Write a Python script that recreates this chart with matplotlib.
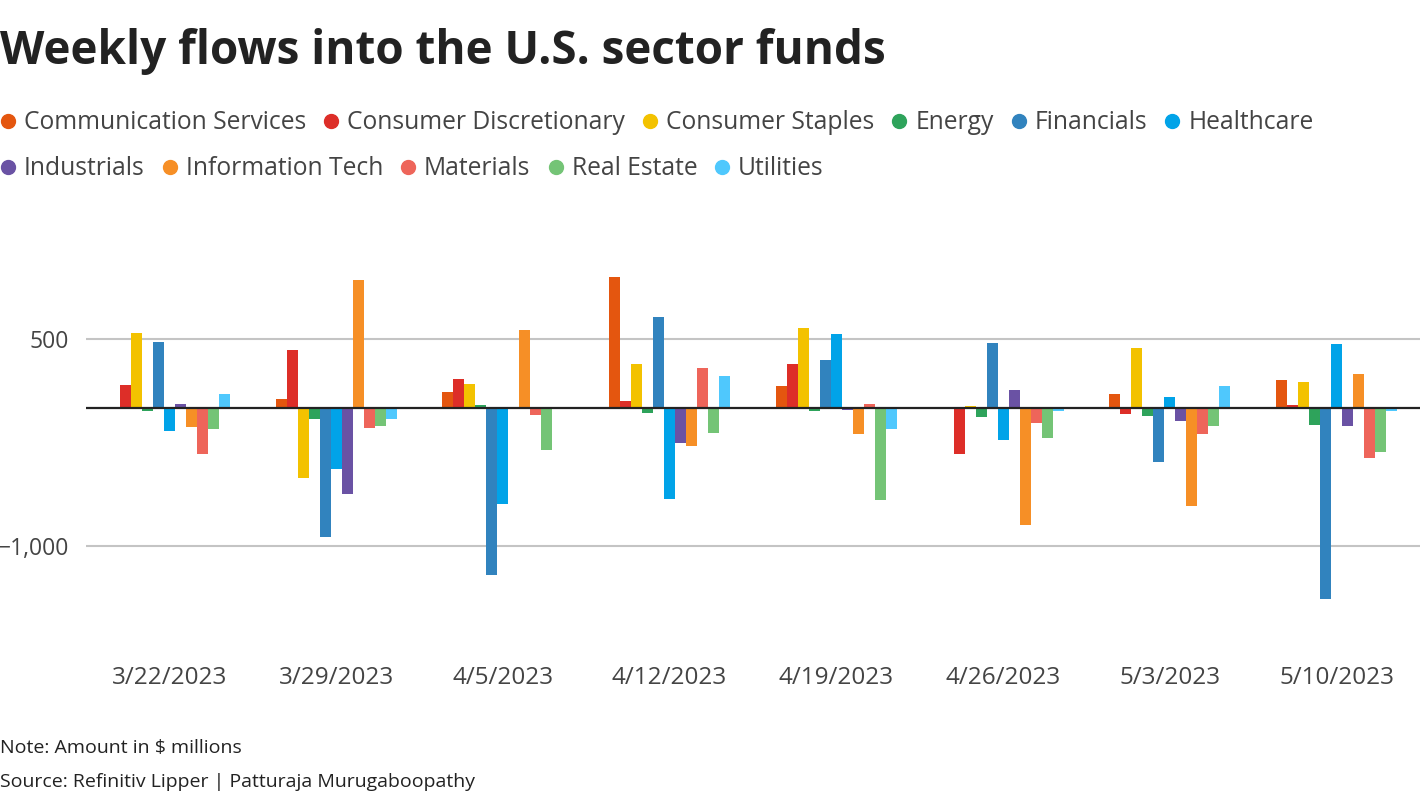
import matplotlib
matplotlib.use("Agg")
import matplotlib.pyplot as plt
import matplotlib.lines as mlines
import numpy as np

plt.rcParams['font.family'] = ['Open Sans', 'DejaVu Sans']

# weekly flows, $ millions
weeks = ['3/22/2023', '3/29/2023', '4/5/2023', '4/12/2023',
         '4/19/2023', '4/26/2023', '5/3/2023', '5/10/2023']
sectors = ['Communication Services', 'Consumer Discretionary', 'Consumer Staples',
           'Energy', 'Financials', 'Healthcare', 'Industrials', 'Information Tech',
           'Materials', 'Real Estate', 'Utilities']
comm_services = [0, 63, 114, 951, 158, 0, 100, 201]
cons_disc = [165, 420, 209, 49, 318, -337, -46, 19]
cons_staples = [544, -505, 172, 318, 580, 12, 434, 187]
energy = [-24, -83, 19, -39, -24, -68, -61, -126]
financials = [478, -934, -1211, 660, 347, 471, -388, -1386]
healthcare = [-170, -439, -694, -658, 536, -235, 78, 464]
industrials = [27, -621, 0, -257, -17, 129, -97, -133]
info_tech = [-141, 930, 566, -272, -192, -847, -709, 245]
materials = [-337, -148, -53, 289, 27, -112, -192, -366]
real_estate = [-155, -133, -308, -184, -665, -214, -133, -316]
utilities = [100, -83, 0, 231, -155, -24, 158, -24]

series = [comm_services, cons_disc, cons_staples, energy, financials, healthcare,
          industrials, info_tech, materials, real_estate, utilities]
colors = ['#e4560f', '#dd2e28', '#f3c200', '#2ea35b', '#3183be', '#01a3e8',
          '#6a52a4', '#f68f26', '#ee655a', '#74c476', '#4fc8fd']

W, H = 1420, 800
fig = plt.figure(figsize=(W / 100, H / 100), dpi=100)
ax = fig.add_axes([86 / W, 0.214, 1 - 86 / W, 0.5003])

x = np.arange(len(weeks))
bw = 0.066
n = len(series)
for i, (vals, c) in enumerate(zip(series, colors)):
    ax.bar(x + (i - (n - 1) / 2) * bw, vals, width=bw, color=c, linewidth=0, zorder=2)

ax.set_xlim(-0.5, 7.5)
ax.set_ylim(-1600, 1300)
ax.set_yticks([500, -1000])
ax.set_yticklabels(['500', '\u22121,000'])
ax.set_xticks(x)
ax.set_xticklabels(weeks)
ax.grid(axis='y', color='#c4c4c4', linewidth=1.5, zorder=0)
ax.axhline(0, color='#222222', linewidth=1.6, zorder=3)
for s in ax.spines.values():
    s.set_visible(False)
ax.tick_params(axis='both', length=0, labelcolor='#444444')
ax.tick_params(axis='y', pad=12, labelsize=16.5)
ax.tick_params(axis='x', pad=27, labelsize=17.5)

fig.text(0, 1 - 64 / H, 'Weekly flows into the U.S. sector funds', fontsize=33,
         fontweight='bold', color='#222222', va='baseline', ha='left')

# flowing legend
renderer = fig.canvas.get_renderer()
px, row_base = 1, 129
for name, c in zip(sectors, colors):
    t = fig.text(0, 0, name, fontsize=17.7, color='#444444', va='baseline', ha='left')
    w = t.get_window_extent(renderer=renderer).width
    if px + 23 + w > W:
        px = 1
        row_base += 46
    t.set_position(((px + 23) / W, 1 - row_base / H))
    fig.add_artist(mlines.Line2D([(px + 7) / W], [1 - (row_base - 8) / H], marker='o',
                                 markersize=10, color=c, linestyle='none',
                                 transform=fig.transFigure))
    px = px + 23 + w + 18

fig.text(0, 1 - 753 / H, 'Note: Amount in $ millions', fontsize=14, color='#222222',
         va='baseline', ha='left')
fig.text(0, 1 - 787 / H, 'Source: Refinitiv Lipper | Patturaja Murugaboopathy', fontsize=14,
         color='#222222', va='baseline', ha='left')

fig.savefig('out.png', dpi=100)
